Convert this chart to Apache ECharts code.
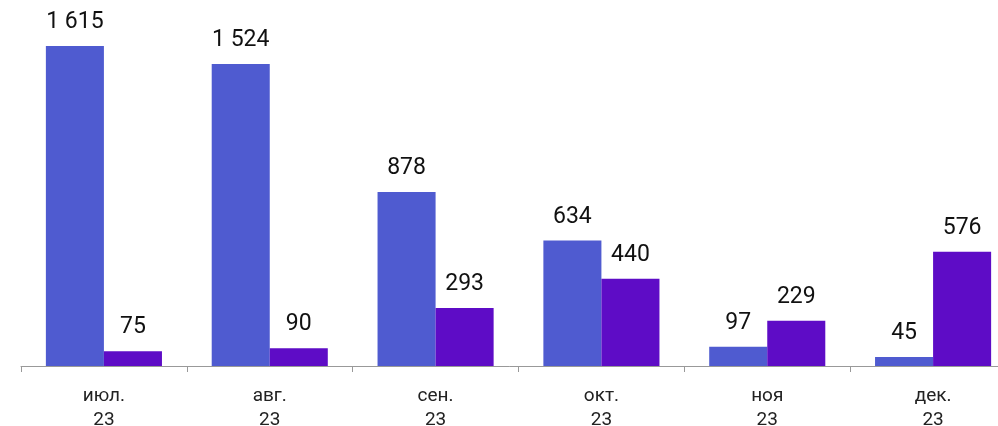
<!DOCTYPE html>
<html><head><meta charset="utf-8">
<script src="https://cdn.jsdelivr.net/npm/echarts@6/dist/echarts.min.js"></script>
<style>html,body{margin:0;padding:0;background:#fff}#c{width:998px;height:426px}</style>
</head><body><div id="c"></div>
<script>
const categories = ['июл.\n23', 'авг.\n23', 'сен.\n23', 'окт.\n23', 'ноя\n23', 'дек.\n23'];
const seriesA = [1615, 1524, 878, 634, 97, 45];
const seriesB = [75, 90, 293, 440, 229, 576];
const colorA = '#4F5BD0';
const colorB = '#5E0CC6';
function fmt(v){ const s = String(v); return s.length > 3 ? s.slice(0, s.length-3) + ' ' + s.slice(-3) : s; }
const chart = echarts.init(document.getElementById('c'));
const label = {show:true, position:'top', distance:12, color:'#111', fontFamily:'Roboto', fontSize:23, formatter:p=>fmt(p.value)};
chart.setOption({
  animation:false,
  grid:{left:21, right:-18, top:46, bottom:60, containLabel:false, outerBoundsMode:'none'},
  xAxis:{type:'category', data:categories,
    axisLine:{lineStyle:{color:'#999', width:1}},
    axisTick:{show:true, length:6, lineStyle:{color:'#999'}},
    axisLabel:{color:'#222', fontFamily:'Roboto', fontSize:19, lineHeight:24, margin:18}},
  yAxis:{type:'value', min:0, max:1615, show:false, splitLine:{show:false}},
  series:[
    {type:'bar', data:seriesA, itemStyle:{color:colorA}, barGap:'0%', barCategoryGap:'30%', label},
    {type:'bar', data:seriesB, itemStyle:{color:colorB}, barGap:'0%', barCategoryGap:'30%', label}
  ]
});
</script></body></html>
